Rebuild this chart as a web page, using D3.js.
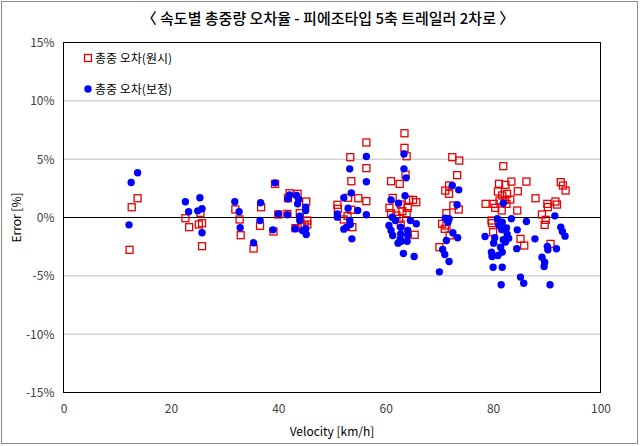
<!DOCTYPE html>
<html><head><meta charset="utf-8">
<script src="https://cdn.jsdelivr.net/npm/d3@7"></script>
<style>body{margin:0;background:#fff}svg{display:block}text{font-family:"Noto Sans CJK KR","Noto Sans",sans-serif}</style>
</head><body><svg id="c" width="640" height="446"></svg>
<script>
const title = "〈 속도별 총중량 오차율 - 피에조타입 5축 트레일러 2차로 〉";
const seriesNames = ["총중 오차(원시)", "총중 오차(보정)"];
const xTicks = [0, 20, 40, 60, 80, 100];
const yTicks = [-15, -10, -5, 0, 5, 10, 15];
const rawPoints = [
[13.8,1.65],[12.7,0.88],[12.3,-2.77],
[22.7,-0.06],[23.4,-0.83],[25.5,0.40],[25.2,-0.60],[25.8,-0.49],[25.8,-2.46],
[32.0,0.69],[32.8,-0.17],[33.0,-1.52],[35.4,-2.66],[36.8,0.88],[36.6,-0.71],[39.1,-1.20],[39.4,2.88],[40.0,0.26],[41.7,0.31],[42.1,2.08],[41.8,1.65],[43.6,2.03],[45.2,1.37],[44.0,0.37],[45.4,-0.26],[43.2,-0.91],[44.3,-0.77],[45.4,-0.60],[44.9,-0.69],
[51.0,1.09],[51.1,0.74],[52.2,-0.17],[52.9,0.14],[53.8,-0.83],[53.4,5.17],[53.6,3.11],[53.0,1.69],[54.9,1.65],[53.6,0.66],[56.4,6.43],[56.4,4.23],[56.4,1.40],
[63.5,7.22],[63.5,5.97],[63.9,5.25],[63.7,3.68],[62.6,2.88],[61.0,3.11],[61.3,1.68],[60.7,0.83],[61.0,0.37],[62.8,1.11],[64.3,1.51],[65.1,1.51],[65.7,1.31],[64.1,0.83],[63.1,0.54],[63.9,0.37],[62.5,-0.11],[62.8,-0.60],[65.4,-1.48],[62.0,0.17],
[72.4,5.17],[73.7,4.88],[73.3,3.63],[71.8,2.74],[71.1,2.31],[71.8,2.03],[72.6,1.03],[73.6,0.69],[71.3,0.37],[70.5,-0.54],[71.0,-0.97],[71.3,-0.69],[71.9,-1.54],[70.0,-2.54],
[81.9,4.40],[81.1,2.89],[82.3,2.80],[83.4,3.08],[86.2,3.08],[84.6,2.25],[80.9,2.23],[81.7,1.89],[82.6,2.03],[83.2,1.54],[82.2,1.51],[82.5,1.17],[81.2,1.46],[78.6,1.17],[80.1,1.17],[80.4,0.83],[81.6,0.60],[84.5,0.60],[87.9,1.65],[79.7,-0.26],[79.8,-0.49],[80.0,-1.26],[85.1,-1.83],[85.8,-2.40],
[89.1,0.26],[90.1,1.17],[90.2,0.89],[91.6,1.37],[91.9,1.11],[89.8,-0.20],[89.6,-0.63],[90.7,-2.26],[92.6,3.03],[93.0,2.74],[93.5,2.31]
];
const corPoints = [
[13.8,3.83],[12.6,3.0],[12.2,-0.63],
[22.7,1.35],[23.3,0.49],[25.4,1.69],[25.8,0.75],[25.0,0.57],[25.8,-1.31],
[31.9,1.35],[32.7,0.49],[32.9,-0.88],[35.4,-2.17],[36.7,1.26],[36.6,-0.26],[39.0,-1.06],[39.4,2.97],[40.0,0.31],[41.7,0.23],[42.1,1.94],[41.8,1.60],[43.4,1.88],[43.6,1.17],[43.8,1.54],[45.1,0.88],[45.1,0.60],[44.0,0.11],[44.0,-0.26],[43.1,-0.97],[45.1,-0.97],[45.2,-1.46],[44.5,-1.11],
[51.0,0.31],[51.0,0.03],[52.2,1.69],[53.0,0.80],[53.3,-0.26],[53.4,-0.60],[52.7,-0.83],[52.2,-1.0],[53.7,-1.83],[53.6,2.11],[53.3,4.17],[54.8,0.60],[56.4,5.23],[56.4,3.06],[56.4,0.23],
[63.4,5.45],[63.4,4.17],[63.8,3.40],[63.6,1.86],[62.4,1.23],[61.0,1.51],[61.2,0.03],[60.6,-0.69],[61.0,-1.11],[61.3,-1.54],[62.8,-0.83],[62.8,-1.40],[62.7,-1.83],[62.3,-2.20],[64.1,-1.11],[64.1,-1.54],[64.0,-2.03],[64.6,-0.26],[65.7,-0.54],[63.3,-3.08],[65.3,-3.34],[62.9,-2.03],[61.8,-0.26],
[72.4,2.74],[73.6,2.37],[73.3,1.09],[71.1,-0.06],[71.8,-0.11],[71.6,-0.40],[72.5,-1.31],[73.4,-1.74],[71.3,-1.97],[70.6,-2.74],[71.0,-3.17],[71.8,-3.77],[70.0,-4.66],
[81.9,1.23],[80.8,-0.11],[81.7,-0.40],[83.4,-0.11],[86.2,-0.34],[81.1,-0.69],[81.6,-1.03],[82.5,-0.89],[84.5,-1.06],[82.6,-1.40],[82.9,-1.77],[78.5,-1.63],[80.3,-1.74],[80.1,-2.20],[81.9,-1.91],[82.3,-2.11],[81.4,-2.54],[84.4,-2.67],[81.7,-2.97],[79.7,-2.97],[79.8,-3.34],[80.9,-3.26],[87.8,-1.83],[80.0,-4.26],[81.7,-4.26],[85.1,-5.11],[85.7,-5.63],[81.5,-5.77],
[91.5,0.14],[92.6,-0.83],[92.9,-1.20],[93.4,-1.60],[90.1,-2.48],[90.2,-2.77],[91.8,-2.68],[89.1,-3.40],[89.6,-3.83],[89.5,-4.20],[90.6,-5.77]
];

const svg = d3.select("#c");
const L = 63.5, R = 600.5, T = 42.5, B = 392.5;
const x = d3.scaleLinear().domain([0, 100]).range([L, R]);
const y = d3.scaleLinear().domain([-15, 15]).range([B, T]);
const RED = "#e60000", BLUE = "#0000ff";

svg.append("rect").attr("x", 1.5).attr("y", 1.5).attr("width", 636).attr("height", 442)
  .attr("fill", "#fff").attr("stroke", "#8a8a8a").attr("stroke-width", 1);

svg.append("text").attr("x", 328).attr("y", 24).attr("text-anchor", "middle")
  .attr("font-size", 15).attr("font-weight", 500).attr("fill", "#000").text(title);

// gridlines
svg.append("g").selectAll("line").data(yTicks.filter(d => d !== 0 && d !== 15 && d !== -15)).join("line")
  .attr("x1", L).attr("x2", R).attr("y1", d => y(d)).attr("y2", d => y(d))
  .attr("stroke", "#bfbfbf").attr("stroke-width", 1);

// zero line
svg.append("line").attr("x1", L).attr("x2", R).attr("y1", y(0)).attr("y2", y(0))
  .attr("stroke", "#000").attr("stroke-width", 1.2);

// plot border
svg.append("rect").attr("x", L).attr("y", T).attr("width", R - L).attr("height", B - T)
  .attr("fill", "none").attr("stroke", "#000").attr("stroke-width", 1);

// y axis labels
const yAxis = d3.axisLeft(y).tickValues(yTicks).tickSize(0).tickPadding(9).tickFormat(d => d + "%");
const gy = svg.append("g").attr("transform", `translate(${L},0)`).call(yAxis);
gy.select(".domain").remove();
gy.selectAll("text").attr("font-size", 12).attr("fill", "#404040").attr("font-family", '"Noto Sans CJK KR",sans-serif');

const xAxis = d3.axisBottom(x).tickValues(xTicks).tickSize(0).tickPadding(12);
const gx = svg.append("g").attr("transform", `translate(0,${B})`).call(xAxis);
gx.select(".domain").remove();
gx.selectAll("text").attr("font-size", 12).attr("fill", "#404040").attr("font-family", '"Noto Sans CJK KR",sans-serif');

svg.append("text").attr("x", (L + R) / 2).attr("y", 436).attr("text-anchor", "middle")
  .attr("font-size", 12).attr("fill", "#000").text("Velocity [km/h]");
svg.append("text").attr("transform", `translate(21,${y(0)}) rotate(-90)`).attr("text-anchor", "middle")
  .attr("font-size", 12).attr("fill", "#000").text("Error [%]");

// markers
const s = 7;
svg.append("g").selectAll("rect").data(rawPoints).join("rect")
  .attr("x", d => x(d[0]) - s / 2).attr("y", d => y(d[1]) - s / 2)
  .attr("width", s).attr("height", s)
  .attr("fill", "none").attr("stroke", RED).attr("stroke-width", 1.3);
svg.append("g").selectAll("circle").data(corPoints).join("circle")
  .attr("cx", d => x(d[0])).attr("cy", d => y(d[1])).attr("r", 3.7).attr("fill", BLUE);

// legend
const lg = svg.append("g");
lg.append("rect").attr("x", 84.5).attr("y", 54.5).attr("width", 7).attr("height", 7)
  .attr("fill", "none").attr("stroke", RED).attr("stroke-width", 1.3);
lg.append("text").attr("x", 95).attr("y", 62.5).attr("font-size", 12).attr("fill", "#000").text(seriesNames[0]);
lg.append("circle").attr("cx", 88).attr("cy", 89).attr("r", 3.7).attr("fill", BLUE);
lg.append("text").attr("x", 95).attr("y", 93.5).attr("font-size", 12).attr("fill", "#000").text(seriesNames[1]);
</script></body></html>
